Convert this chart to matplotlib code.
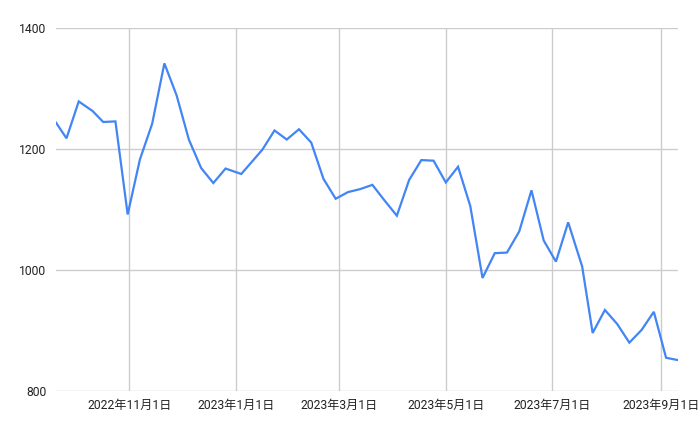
import matplotlib
matplotlib.use("Agg")
import matplotlib.pyplot as plt
import matplotlib.dates as mdates
from datetime import date

dates = [
    "2022-09-20", "2022-09-26", "2022-10-03", "2022-10-11", "2022-10-17", "2022-10-24",
    "2022-10-31", "2022-11-07", "2022-11-14", "2022-11-21", "2022-11-28", "2022-12-05",
    "2022-12-12", "2022-12-19", "2022-12-26", "2023-01-04", "2023-01-10", "2023-01-16",
    "2023-01-23", "2023-01-30", "2023-02-06", "2023-02-13", "2023-02-20", "2023-02-27",
    "2023-03-06", "2023-03-13", "2023-03-20", "2023-03-27", "2023-04-03", "2023-04-10",
    "2023-04-17", "2023-04-24", "2023-05-01", "2023-05-08", "2023-05-15", "2023-05-22",
    "2023-05-29", "2023-06-05", "2023-06-12", "2023-06-19", "2023-06-26", "2023-07-03",
    "2023-07-10", "2023-07-18", "2023-07-24", "2023-07-31", "2023-08-07", "2023-08-14",
    "2023-08-21", "2023-08-28", "2023-09-04", "2023-09-11",
]
values = [
    1244, 1218, 1279, 1263, 1245, 1246,
    1092, 1183, 1242, 1342, 1289, 1216,
    1169, 1144, 1168, 1159, 1179, 1199,
    1231, 1216, 1233, 1211, 1151, 1118,
    1129, 1134, 1141, 1115, 1090, 1149,
    1182, 1181, 1145, 1171, 1106, 987,
    1028, 1029, 1064, 1132, 1049, 1014,
    1079, 1006, 896, 934, 911, 880,
    901, 931, 855, 851,
]
y_ticks = [800, 1000, 1200, 1400]
x_ticks = ["2022-11-01", "2023-01-01", "2023-03-01", "2023-05-01", "2023-07-01", "2023-09-01"]

def to_date(s):
    y, m, d = map(int, s.split("-"))
    return date(y, m, d)

xd = [to_date(s) for s in dates]
xt = [to_date(s) for s in x_ticks]

plt.rcParams["font.family"] = ["Roboto", "Noto Sans CJK JP", "DejaVu Sans"]

fig = plt.figure(figsize=(7.0, 4.33), dpi=100)
ax = fig.add_axes([56 / 700, 1 - 391 / 433, (678.3 - 56) / 700, (391 - 28.3) / 433])

ax.plot(xd, values, color="#4285F4", lw=1.6, solid_joinstyle="miter", zorder=3)

ax.set_xlim(xd[0], xd[-1])
ax.set_ylim(800, 1400)
ax.set_yticks(y_ticks)
ax.set_yticklabels([str(v) for v in y_ticks])
ax.set_xticks(xt)
ax.set_xticklabels([f"{d.year}年{d.month}月{d.day}日" for d in xt])

ax.grid(True, color="#cccccc", lw=1.0, zorder=0)
for s in ax.spines.values():
    s.set_visible(False)
ax.tick_params(axis="both", length=0, labelsize=8.7, colors="#222222")
ax.tick_params(axis="y", pad=7)
ax.tick_params(axis="x", pad=6)

fig.savefig("out.png", dpi=100)
